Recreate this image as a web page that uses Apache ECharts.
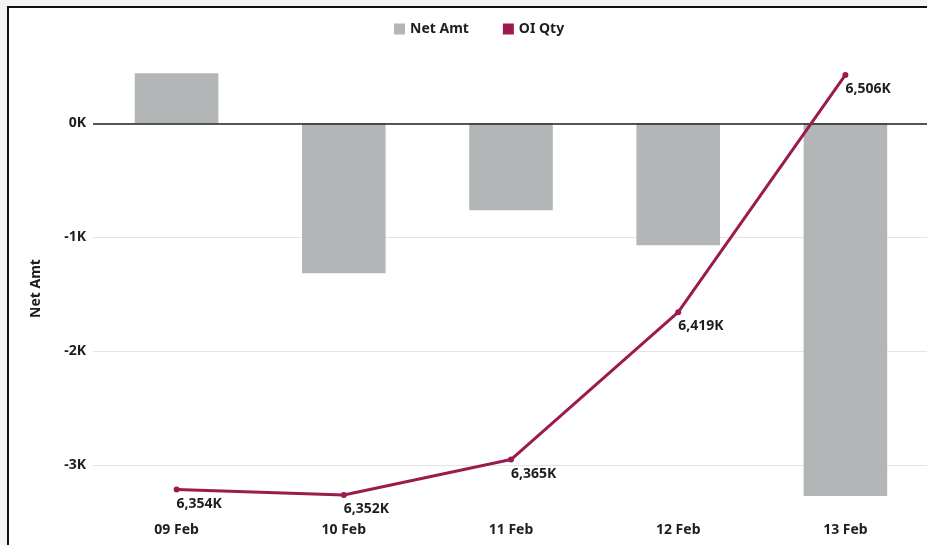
<!DOCTYPE html>
<html>
<head>
<meta charset="utf-8">
<script src="https://cdn.jsdelivr.net/npm/echarts@6/dist/echarts.min.js"></script>
<style>
  html, body { margin: 0; padding: 0; background: #f4f4f4; overflow: hidden; }
  #frame { position: absolute; left: 7px; top: 6px; width: 960px; height: 580px;
           background: #fff; border-top: 2px solid #111; border-left: 2px solid #111; }
  #chart { position: absolute; left: 0; top: 0; width: 940px; height: 545px; }
</style>
</head>
<body>
<div id="frame"></div>
<div id="chart"></div>
<script>
// Daily net amount (bars) and open-interest quantity (line)
const dates = ['09 Feb', '10 Feb', '11 Feb', '12 Feb', '13 Feb'];
const netAmt = [440, -1316, -763, -1070, -3272];
const oiQty = [6354000, 6352000, 6365000, 6419000, 6506000];

const FONT = '"Noto Sans", "Open Sans", sans-serif';
const INK = '#1e1e1e';
const TXT = { fontFamily: FONT, fontSize: 14, fontWeight: 'bold', color: INK };

function fmtK(v) {
  return Math.round(v / 1000).toLocaleString('en-US') + 'K';
}

const chart = echarts.init(document.getElementById('chart'), null, { renderer: 'canvas' });
chart.setOption({
  backgroundColor: 'transparent',
  animation: false,
  textStyle: { fontFamily: FONT },
  legend: {
    top: 17,
    left: 389,
    itemWidth: 11,
    itemHeight: 11,
    itemGap: 34,
    icon: 'rect',
    textStyle: Object.assign({}, TXT),
    data: ['Net Amt', 'OI Qty']
  },
  grid: { left: 93, right: 11, top: 55, bottom: 23, containLabel: false },
  xAxis: {
    type: 'category',
    data: dates,
    axisLine: { show: false },
    axisTick: { show: false },
    axisLabel: Object.assign({ margin: 1 }, TXT)
  },
  yAxis: [
    {
      type: 'value',
      min: -3500,
      max: 600,
      name: 'Net Amt',
      nameLocation: 'middle',
      nameGap: 50,
      nameTextStyle: Object.assign({}, TXT),
      axisLine: { show: false },
      axisTick: { show: false },
      axisLabel: Object.assign({
        showMinLabel: false,
        showMaxLabel: false,
        margin: 7,
        formatter: v => (v / 1000) + 'K'
      }, TXT),
      splitLine: { showMinLine: false, showMaxLine: false, lineStyle: { color: '#e4e4e4', width: 1 } }
    },
    {
      type: 'value',
      min: 6342100,
      max: 6513300,
      show: false,
      splitLine: { show: false }
    }
  ],
  series: [
    {
      name: 'Net Amt',
      type: 'bar',
      data: netAmt,
      barWidth: '50%',
      itemStyle: { color: '#b3b6b7' },
      markLine: {
        silent: true,
        symbol: 'none',
        label: { show: false },
        lineStyle: { color: '#222', width: 1.5, type: 'solid' },
        data: [{ yAxis: 0 }],
        z: 5
      }
    },
    {
      name: 'OI Qty',
      type: 'line',
      yAxisIndex: 1,
      data: oiQty,
      z: 10,
      symbol: 'circle',
      symbolSize: 6,
      itemStyle: { color: '#9b1b4f' },
      lineStyle: { color: '#9b1b4f', width: 3 },
      label: Object.assign({
        show: true,
        position: 'bottom',
        align: 'left',
        distance: 4,
        formatter: p => fmtK(p.value)
      }, TXT)
    }
  ]
});
</script>
</body>
</html>
